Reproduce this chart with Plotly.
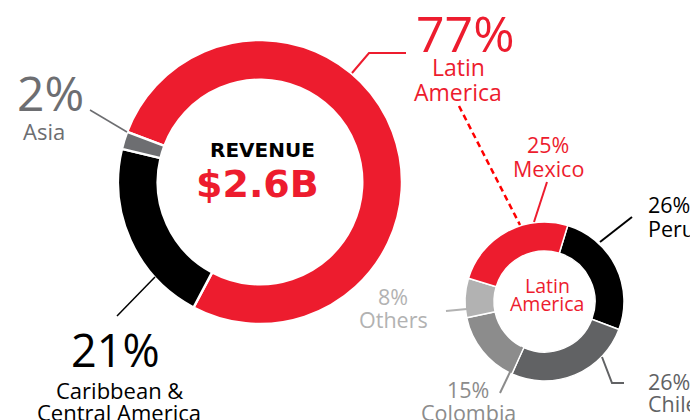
import plotly.graph_objects as go

# page is 698x420; the html body adds an 8px margin, so the figure is sized to fill the rest
PAGE_W, PAGE_H = 698, 420
OFF = 8
W, H = PAGE_W - OFF, PAGE_H - OFF

# ---- data ----
region_labels = ["Latin America", "Caribbean & Central America", "Asia"]
region_values = [77, 21, 2]
region_colors = ["#ED1C2E", "#000000", "#6D6E71"]

country_labels = ["Peru", "Chile", "Colombia", "Others", "Mexico"]
country_values = [26, 26, 15, 8, 25]
country_colors = ["#000000", "#616264", "#8C8C8C", "#B2B2B2", "#ED1C2E"]

center_title = "REVENUE"
center_value = "$2.6B"


def px(x):
    return (x - OFF) / W


def py(y):
    return 1 - (y - OFF) / H


fig = go.Figure()

fig.add_trace(go.Pie(
    labels=region_labels, values=region_values, sort=False,
    direction="clockwise", rotation=-69.3, hole=0.72,
    marker=dict(colors=region_colors, line=dict(color="white", width=2.5)),
    textinfo="none", hoverinfo="label+percent", showlegend=False,
    domain=dict(x=[px(118), px(402)], y=[py(324), py(40)]),
))

fig.add_trace(go.Pie(
    labels=country_labels, values=country_values, sort=False,
    direction="clockwise", rotation=17, hole=0.635,
    marker=dict(colors=country_colors, line=dict(color="white", width=1.5)),
    textinfo="none", hoverinfo="label+percent", showlegend=False,
    domain=dict(x=[px(465), px(624)], y=[py(381), py(222)]),
))

FONT = "Open Sans, Noto Sans, sans-serif"
BOLD_FONT = "DejaVu Sans, Open Sans, sans-serif"
ann = []


def text(x, y, s, size, color, anchor="center", bold=False, family=FONT):
    ann.append(dict(
        x=px(x), y=py(y), xref="paper", yref="paper", text=(f"<b>{s}</b>" if bold else s),
        showarrow=False, xanchor=anchor, yanchor="middle",
        font=dict(family=family, size=size, color=color),
    ))


def pct(v):
    return f"{v}%"


rv = dict(zip(region_labels, region_values))
cv = dict(zip(country_labels, country_values))

# big donut labels
text(465, 33, pct(rv["Latin America"]), 50, "#ED1C2E")
text(458, 67, "Latin", 23, "#ED1C2E")
text(458, 92, "America", 23, "#ED1C2E")

text(50, 92, pct(rv["Asia"]), 48, "#6D6E71")
text(44, 131, "Asia", 22, "#6D6E71")

text(115, 349, pct(rv["Caribbean & Central America"]), 45, "#000000")
text(120, 390, "Caribbean &", 22, "#000000")
text(119, 412, "Central America", 22, "#000000")

text(262, 150, center_title, 20, "#000000", bold=True, family=BOLD_FONT)
text(257, 184, center_value, 38, "#ED1C2E", bold=True, family=BOLD_FONT)

# small donut labels
text(547, 285, "Latin", 19.5, "#ED1C2E")
text(547, 303, "America", 19.5, "#ED1C2E")

text(548, 145, pct(cv["Mexico"]), 21.5, "#ED1C2E")
text(548, 168, "Mexico", 21.5, "#ED1C2E")

text(646, 204, pct(cv["Peru"]), 21.5, "#000000", anchor="left")
text(646, 228, "Peru", 21.5, "#000000", anchor="left")

text(646, 381, pct(cv["Chile"]), 21.5, "#616264", anchor="left")
text(646, 403, "Chile", 21.5, "#616264", anchor="left")

text(468, 389, pct(cv["Colombia"]), 21.5, "#8C8C8C")
text(468, 412, "Colombia", 21.5, "#8C8C8C")

text(393, 296, pct(cv["Others"]), 21.5, "#B2B2B2")
text(394, 319, "Others", 21.5, "#B2B2B2")

# leader lines
shapes = []


def line(pts, color, width, dash="solid"):
    path = "M " + " L ".join(f"{px(x)},{py(y)}" for x, y in pts)
    shapes.append(dict(type="path", path=path, xref="paper", yref="paper",
                       line=dict(color=color, width=width, dash=dash)))


line([(352, 73), (369, 53), (406, 53)], "#ED1C2E", 2)
line([(90, 110), (127, 132)], "#6D6E71", 1.5)
line([(155, 277), (117, 316)], "#000000", 1.5)
line([(459, 106), (520, 225)], "#FF0000", 2.5, dash="6px,4px")
line([(547, 182), (534, 222)], "#ED1C2E", 2)
line([(632, 217), (600, 242)], "#000000", 2)
line([(602, 357), (612, 383), (624, 383)], "#616264", 2)
line([(522, 347), (500, 393)], "#8C8C8C", 2)
line([(446, 311), (467, 309)], "#B2B2B2", 2)

fig.update_layout(
    width=W, height=H, margin=dict(l=0, r=0, t=0, b=0),
    paper_bgcolor="white", plot_bgcolor="white",
    annotations=ann, shapes=shapes,
)

fig.write_html("out.html")
